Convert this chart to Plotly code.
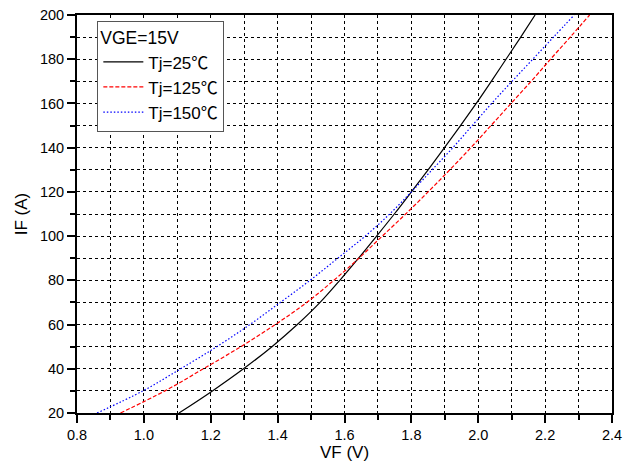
import plotly.graph_objects as go

# Forward current IF (A) levels
IF_A = [20, 30, 40, 50, 60, 70, 80, 90, 100, 110, 120, 130, 140, 150, 160, 170, 180, 190, 200]

# Forward voltage VF (V) at each IF level
VF_25 = [1.105, 1.205, 1.298, 1.383, 1.459, 1.527, 1.586, 1.642, 1.696, 1.749, 1.800, 1.850,
         1.899, 1.947, 1.994, 2.039, 2.083, 2.127, 2.17]
VF_125 = [0.93, 1.063, 1.178, 1.290, 1.393, 1.487, 1.568, 1.643, 1.713, 1.783, 1.85, 1.915,
          1.978, 2.038, 2.098, 2.158, 2.216, 2.275, 2.333]
VF_150 = [0.86, 0.997, 1.110, 1.218, 1.317, 1.408, 1.497, 1.58, 1.662, 1.735, 1.800, 1.862,
          1.924, 1.982, 2.040, 2.101, 2.163, 2.225, 2.287]

CELSIUS = "<span style='font-family:Noto Sans CJK SC'>\u2103</span>"
series_names = ["Tj=25" + CELSIUS, "Tj=125" + CELSIUS, "Tj=150" + CELSIUS]
legend_title = "VGE=15V"

FONT = "Arial, Liberation Sans, sans-serif"

fig = go.Figure()
fig.add_trace(go.Scatter(x=VF_25, y=IF_A, mode="lines", name=series_names[0],
                         line=dict(color="black", width=1.2, shape="spline", smoothing=1.0)))
fig.add_trace(go.Scatter(x=VF_125, y=IF_A, mode="lines", name=series_names[1],
                         line=dict(color="#ff0000", width=1.2, dash="4px,2px", shape="spline", smoothing=1.0)))
fig.add_trace(go.Scatter(x=VF_150, y=IF_A, mode="lines", name=series_names[2],
                         line=dict(color="#0000ff", width=1.2, dash="1.5px,2px", shape="spline", smoothing=1.0)))

axis_common = dict(
    showline=True, linecolor="black", linewidth=2, mirror=True,
    ticks="outside", ticklen=8, tickwidth=1.5, tickcolor="black",
    showgrid=True, gridcolor="black", gridwidth=1, griddash="dot",
    zeroline=False, automargin=False,
    tickfont=dict(family=FONT, size=14.5, color="black"),
)

fig.update_xaxes(
    range=[0.8, 2.4], dtick=0.2, tick0=0.8, tickformat=".1f",
    minor=dict(dtick=0.1, ticks="outside", ticklen=5, tickcolor="black",
               showgrid=True, gridcolor="black", griddash="dot", gridwidth=1),
    title=dict(text="VF (V)", font=dict(family=FONT, size=17, color="black"),
               standoff=2),
    **axis_common,
)
fig.update_yaxes(
    range=[20, 200], dtick=20, tick0=20,
    minor=dict(dtick=10, ticks="outside", ticklen=5, tickcolor="black",
               showgrid=True, gridcolor="black", griddash="dot", gridwidth=1),
    title=dict(text="IF (A)", font=dict(family=FONT, size=17, color="black"),
               standoff=8),
    **axis_common,
)

fig.update_layout(
    width=623, height=464,
    margin=dict(l=77, r=11, t=15, b=51),
    paper_bgcolor="white", plot_bgcolor="white",
    font=dict(family=FONT, color="black"),
    legend=dict(
        title=dict(text=legend_title, font=dict(family=FONT, size=17.5)),
        font=dict(family=FONT, size=17),
        x=0.038, y=0.986, xanchor="left", yanchor="top",
        bgcolor="white", bordercolor="#555555", borderwidth=1,
        tracegroupgap=0, itemwidth=40,
    ),
    showlegend=True,
)

fig.write_html("out.html", config={"displayModeBar": False},
               post_script="document.body.style.margin='0px';")
